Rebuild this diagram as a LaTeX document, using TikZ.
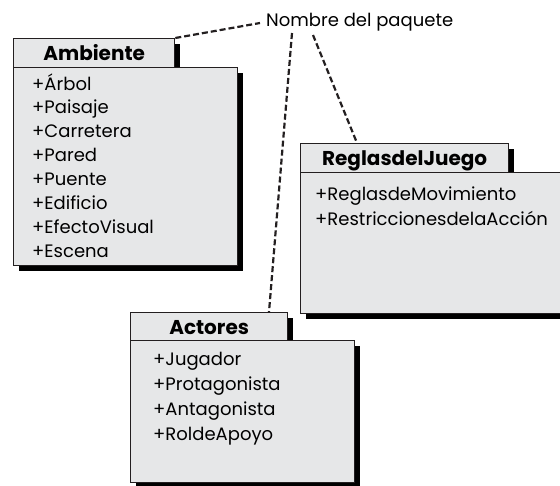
\documentclass[tikz,border=0pt]{standalone}
\usepackage{fontspec}
\setmainfont{Poppins}
\usetikzlibrary{shadows}
\definecolor{pkggray}{HTML}{E6E7E8}
\definecolor{pkgline}{HTML}{231F20}
\begin{document}
\begin{tikzpicture}[x=1pt,y=-1pt,
  pkgbox/.style={rectangle, anchor=north west, inner sep=0pt, fill=pkggray, draw=pkgline, line width=1.3pt,
    drop shadow={shadow xshift=5pt, shadow yshift=-5pt, fill=black, opacity=1}},
  pkgtab/.style={pkgbox, minimum height=29pt, text height=15pt, text depth=0pt,
    font=\bfseries\fontsize{20}{22}\selectfont},
  item/.style={anchor=base west, inner sep=0pt, font=\fontsize{18}{20}\selectfont},
  leader/.style={draw=pkgline, line width=2.2pt, dash pattern=on 6pt off 3pt}
]
\useasboundingbox (0,0) rectangle (560,485);
\clip (0,0) rectangle (560,485);

% Ambiente
\node[pkgtab, minimum width=161pt] (ambT) at (13,38) {Ambiente};
\node[pkgbox, minimum width=224pt, minimum height=198pt] (ambB) at (13,67) {};
\foreach \t [count=\i from 0] in {+Árbol,+Paisaje,+Carretera,+Pared,+Puente,+Edificio,+EfectoVisual,+Escena}
  \node[item] (amb\i) at (32,90+23.9*\i) {\t};

% ReglasdelJuego
\node[pkgtab, minimum width=208pt] (regT) at (300,143) {ReglasdelJuego};
\node[pkgbox, minimum width=280pt, minimum height=141pt] (regB) at (300,172) {};
\node[item] (reg0) at (315,200) {+ReglasdeMovimiento};
\node[item] (reg1) at (315,225) {+RestriccionesdelaAcción};

% Actores
\node[pkgtab, minimum width=157pt] (actT) at (130,312) {Actores};
\node[pkgbox, minimum width=224pt, minimum height=142pt] (actB) at (130,340) {};
\foreach \t [count=\i from 0] in {+Jugador,+Protagonista,+Antagonista,+RoldeApoyo}
  \node[item] (act\i) at (153,365+25*\i) {\t};

% label and leaders
\node[item] (lbl) at (266,26) {Nombre del paquete};
\coordinate (l1) at (260,23);
\coordinate (l2) at (292,33);
\coordinate (l3) at (313,35);
\coordinate (e2) at (269,312);
\coordinate (e3) at (357,143);
\draw[leader] (ambT.north east) -- (l1);
\draw[leader] (l2) -- (e2);
\draw[leader] (l3) -- (e3);
\end{tikzpicture}
\end{document}
